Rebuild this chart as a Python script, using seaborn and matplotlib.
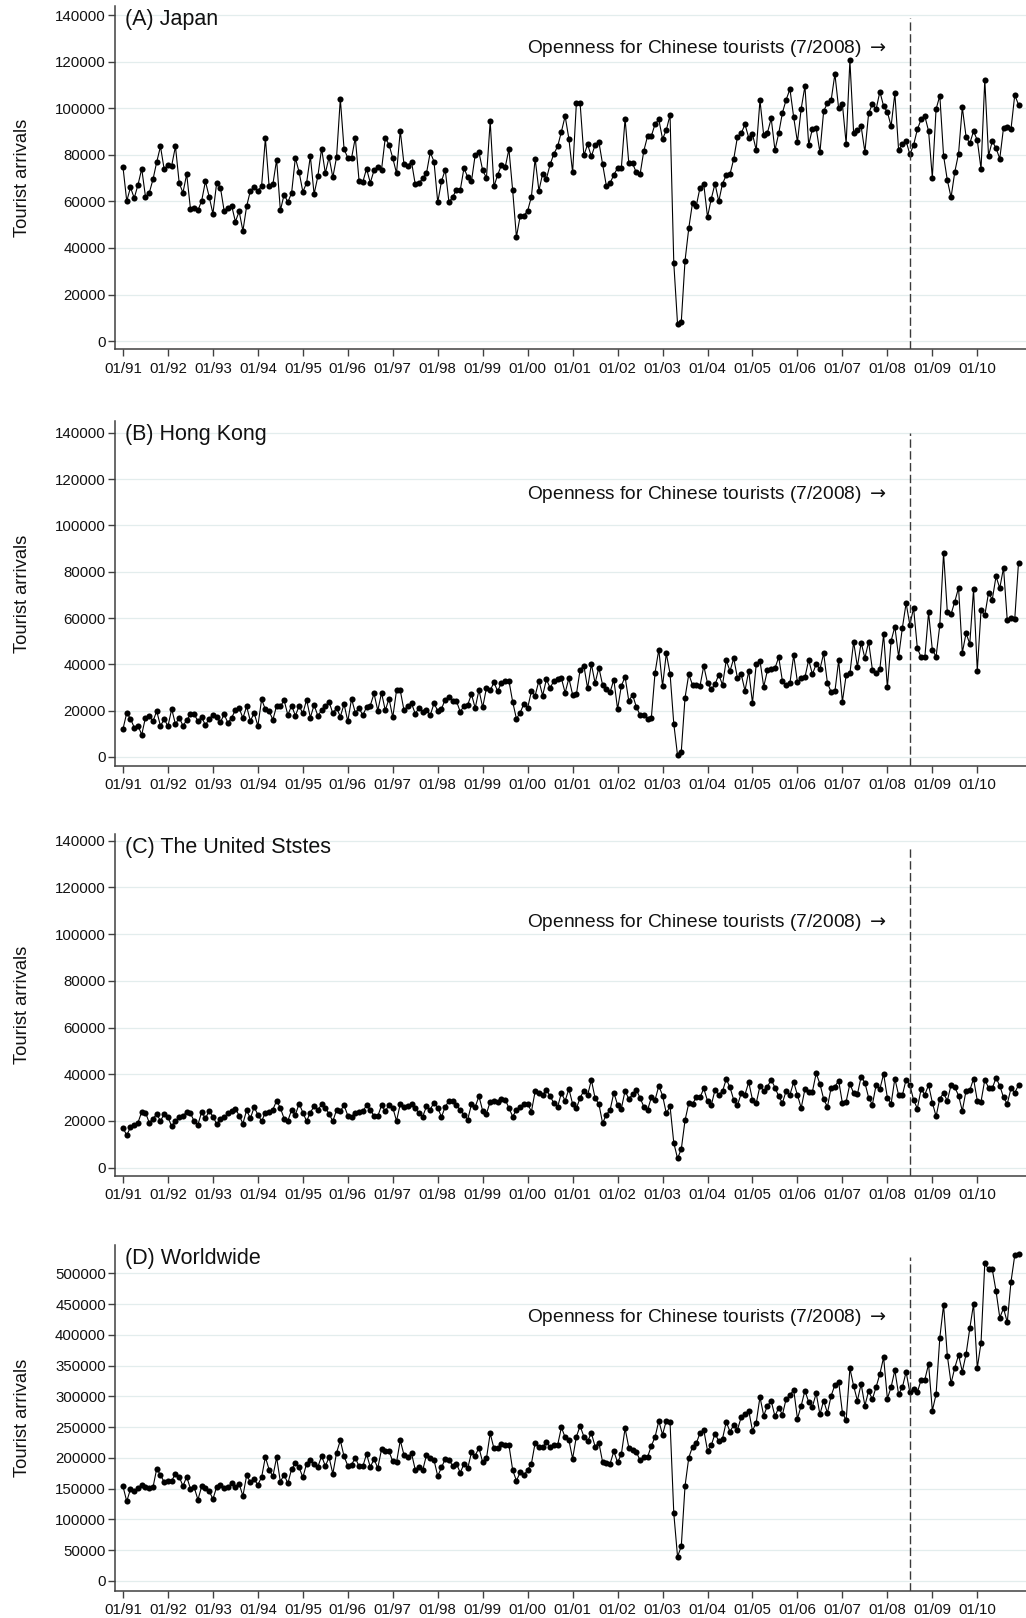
import pandas as pd
import seaborn as sns
import matplotlib.pyplot as plt
import matplotlib.transforms as mtransforms

# monthly tourist arrivals, 01/1991 - 12/2010
years = list(range(1991, 2011))
tick_labels = ["01/%02d" % (y % 100) for y in years]

japan = [
    74700, 60100, 66000, 61400, 67100, 74000, 62000, 63600, 69400, 76900, 83600, 73700,
    75700, 75400, 83600, 67900, 63700, 71700, 56900, 57100, 56100, 60300, 68600, 62000,
    54700, 67900, 65900, 55900, 57300, 58100, 51300, 55700, 47300, 57900, 64600, 66100,
    64400, 66700, 87100, 66400, 67300, 77900, 56100, 62900, 59700, 63600, 78700, 72600,
    64100, 67900, 79400, 63100, 70700, 82700, 72100, 79000, 70300, 79000, 104000, 82400,
    78700, 78600, 87300, 68900, 68300, 74000, 68000, 73300, 74700, 73600, 87300, 84300,
    78600, 72100, 90300, 75900, 75300, 77000, 67300, 67900, 69900, 72100, 81100, 77100,
    59600, 68600, 73600, 59600, 61900, 65000, 64700, 74300, 70400, 68600, 80000, 81100,
    73300, 70100, 94400, 66400, 71400, 75600, 74600, 82400, 64700, 44700, 53700, 53900,
    56000, 62000, 78300, 64600, 71900, 69700, 75900, 80400, 83600, 89900, 96600, 86900,
    72400, 102100, 102100, 79700, 84500, 79300, 84200, 85600, 76000, 66700, 67900, 71400,
    74300, 74300, 95500, 76300, 76300, 72400, 71600, 81700, 88000, 88000, 93200, 95200,
    86800, 90600, 97100, 33500, 7400, 8300, 34500, 48500, 59400, 58100, 65900, 67300,
    53300, 61100, 67600, 60000, 67600, 71200, 71700, 78200, 87800, 89200, 93100, 87300,
    88900, 82000, 103400, 88300, 89500, 95600, 82000, 89200, 98100, 103700, 108200, 96100,
    85500, 99800, 109500, 84300, 91200, 91500, 81000, 98800, 102100, 103500, 114700, 99900,
    101700, 84800, 120500, 89200, 90600, 92200, 81200, 97800, 101800, 99600, 107100, 100900,
    98400, 92300, 106400, 82000, 84600, 85900, 80200, 84200, 90900, 95200, 96600, 90200,
    70200, 99600, 105400, 79600, 69100, 61700, 72700, 80500, 100400, 87800, 84900, 90100,
    86300, 73900, 112200, 79600, 85800, 82900, 78300, 91600, 91900, 91100, 105700, 101500,
]

hong_kong = [
    12100, 19000, 16500, 12700, 13500, 9600, 17000, 17700, 15400, 19800, 13400, 16300,
    13300, 20700, 14100, 17000, 13500, 15800, 18400, 18400, 15500, 17200, 13700, 16500,
    18100, 17200, 15000, 18400, 14700, 17000, 20200, 21100, 16800, 21800, 15500, 19000,
    13400, 24900, 20500, 19700, 16100, 22000, 21800, 24500, 18100, 22200, 17800, 22000,
    18800, 24700, 17000, 22400, 17800, 20100, 22000, 23800, 18800, 21200, 17400, 22800,
    15400, 25100, 19100, 21100, 18000, 21500, 22200, 27400, 20000, 27700, 20100, 25200,
    17100, 28700, 28700, 20100, 22000, 23100, 18700, 21100, 19400, 20400, 18000, 23100,
    20000, 20800, 24800, 25800, 24200, 24100, 19500, 22000, 22500, 27100, 21100, 28900,
    21400, 29800, 28700, 32200, 28400, 32100, 32600, 32900, 23800, 16500, 19100, 23000,
    21200, 28400, 26500, 32900, 26500, 33500, 29800, 32900, 33800, 34000, 27700, 34000,
    26900, 27000, 37700, 39400, 29600, 40100, 31900, 38600, 31100, 29300, 28000, 33400,
    20600, 30700, 34600, 24100, 26900, 21600, 18100, 18100, 16300, 16700, 36400, 46400,
    30600, 44700, 36000, 14300, 700, 2300, 25600, 35700, 31100, 31000, 30700, 39300,
    31900, 29300, 31300, 35600, 31100, 41700, 37100, 42600, 34000, 35700, 28600, 37100,
    23300, 40000, 41600, 30300, 37400, 38100, 38300, 43100, 32700, 30900, 32000, 43900,
    32300, 34000, 34400, 41900, 35700, 40100, 37900, 44700, 32000, 28000, 28300, 41700,
    23900, 35300, 36100, 49700, 38900, 49400, 42700, 49700, 37700, 36300, 38000, 52900,
    30000, 50100, 56300, 43300, 55700, 66400, 57100, 64300, 47000, 43100, 43000, 62400,
    46300, 43300, 57000, 88100, 62600, 61700, 67100, 73100, 45000, 53400, 48900, 72400,
    37300, 63300, 61100, 70900, 68000, 78000, 72900, 81700, 59000, 60000, 59600, 83900,
]

united_states = [
    17000, 13900, 17300, 18400, 19300, 23900, 23600, 19300, 20900, 23000, 20000, 23000,
    21600, 17700, 20000, 21700, 22100, 23900, 23300, 19900, 18400, 23900, 21100, 24300,
    21900, 18700, 20700, 21600, 23300, 24400, 25300, 22300, 18900, 24600, 21100, 25900,
    22700, 19900, 23600, 23900, 24900, 28600, 25600, 21000, 20100, 24700, 22600, 27400,
    23600, 19900, 23600, 26300, 24600, 27100, 25700, 23000, 19900, 24700, 24300, 26700,
    22300, 21700, 23300, 23700, 24100, 26700, 24900, 22100, 22000, 26700, 24300, 26700,
    25700, 20000, 27300, 26100, 26300, 27300, 25600, 23300, 21900, 26300, 24900, 27900,
    25700, 21700, 26100, 28600, 28600, 26900, 24600, 22700, 20600, 27100, 26000, 30600,
    24300, 23100, 28300, 28700, 28100, 29600, 29100, 25600, 21900, 24700, 26100, 27100,
    27400, 24000, 32700, 31900, 31000, 33300, 30600, 27600, 26000, 32000, 28600, 33700,
    27300, 25400, 29900, 33000, 31000, 37600, 29700, 27300, 19100, 22700, 24700, 32100,
    26900, 25300, 32900, 29400, 31400, 33300, 29900, 26100, 24600, 30100, 29000, 35000,
    30900, 23300, 26300, 10600, 4000, 7900, 20300, 27600, 27300, 30100, 30100, 33900,
    28600, 26700, 33300, 31300, 32700, 37900, 34400, 29000, 26700, 31900, 31300, 36600,
    29100, 27600, 35000, 32900, 34700, 37700, 34300, 30600, 27700, 33000, 31300, 36600,
    31100, 25600, 33600, 32400, 32600, 40400, 35900, 29400, 26000, 34300, 34700, 37300,
    27600, 28300, 35900, 31900, 31400, 39000, 36400, 30000, 27000, 35400, 33700, 40100,
    30000, 27400, 38100, 31100, 31000, 37700, 35400, 29000, 25300, 33600, 31300, 35400,
    27900, 22000, 29600, 31900, 28600, 35400, 34400, 30900, 24300, 33000, 33100, 38100,
    28700, 28300, 37600, 34300, 34000, 38400, 35100, 30100, 27300, 34000, 32100, 35300,
]

worldwide = [
    153700, 129400, 149400, 146200, 151600, 155900, 152100, 151000, 152100, 182400, 172200, 160800,
    162900, 162900, 174300, 169400, 154300, 169400, 150000, 152100, 132100, 153700, 150500, 146200,
    133200, 152700, 155900, 151000, 152700, 158600, 152100, 158100, 138000, 171600, 160800, 165100,
    156400, 168900, 201400, 180800, 170000, 200900, 161300, 172700, 158600, 181900, 191100, 184600,
    168400, 190600, 197100, 189500, 185200, 203000, 186800, 200900, 174300, 208400, 228500, 202500,
    187300, 188900, 200300, 186200, 186200, 206300, 185200, 198100, 183500, 213900, 210600, 210600,
    194400, 192700, 228500, 204700, 200900, 207400, 180800, 185200, 180300, 204700, 199800, 196500,
    170500, 184600, 198100, 197100, 186800, 190600, 176000, 190000, 183000, 209000, 203600, 216600,
    192700, 199200, 239900, 215500, 215500, 222500, 220900, 220900, 180300, 162900, 176500, 171600,
    180800, 190600, 224700, 217700, 217100, 225800, 217700, 220400, 221000, 249700, 233500, 229100,
    198800, 234600, 251900, 234600, 227000, 240500, 218300, 224800, 193400, 192300, 190700, 210700,
    192900, 205900, 248100, 216700, 213400, 209600, 196100, 201500, 201500, 219400, 234000, 260000,
    237800, 260600, 258400, 110000, 39500, 56300, 154400, 200400, 218300, 223700, 240500, 245400,
    211800, 220500, 239400, 227500, 231300, 258400, 242700, 253500, 245900, 266500, 271400, 276800,
    244300, 257300, 299000, 268700, 284900, 292500, 267600, 281700, 270300, 296300, 301700, 310900,
    263800, 284900, 309300, 290900, 283300, 305000, 270900, 293100, 273100, 301200, 318500, 323900,
    273600, 261100, 345600, 316900, 293100, 320200, 284900, 308800, 295300, 315300, 336400, 363500,
    296300, 315300, 342400, 303400, 314700, 339700, 306600, 312000, 306600, 326700, 327200, 352700,
    276800, 303400, 395500, 448600, 366300, 321300, 346700, 367300, 340200, 368400, 410600, 450200,
    346200, 387400, 516300, 506500, 506500, 471300, 428000, 443200, 420400, 486500, 529300, 530900,
]

titles = ["(A) Japan", "(B) Hong Kong", "(C) The United Ststes", "(D) Worldwide"]
series = [japan, hong_kong, united_states, worldwide]
open_month = 210  # 7/2008
note = r"Openness for Chinese tourists (7/2008) $\rightarrow$"

# per panel: axes rect, y limits, y tick step, top tick, y position of the note (axes fraction)
layout = [
    ([0.1121, 0.7843, 0.8879, 0.2120], (-3400, 143900), 20000, 140000, 0.877),
    ([0.1121, 0.5266, 0.8879, 0.2132], (-3900, 145100), 20000, 140000, 0.788),
    ([0.1121, 0.2732, 0.8879, 0.2114], (-3550, 142900), 20000, 140000, 0.740),
    ([0.1121, 0.0167, 0.8879, 0.2138], (-16250, 545950), 50000, 500000, 0.792),
]

sns.set_style("ticks")
plt.rcParams["font.family"] = ["Liberation Sans", "DejaVu Sans"]
plt.rcParams["mathtext.fontset"] = "dejavusans"

fig = plt.figure(figsize=(10.26, 16.18), dpi=100)

for title, vals, (rect, ylim, step, ymax, note_y) in zip(titles, series, layout):
    ax = fig.add_axes(rect)
    df = pd.DataFrame({"month": range(len(vals)), "arrivals": vals})
    sns.lineplot(data=df, x="month", y="arrivals", ax=ax, color="black",
                 linewidth=0.8, marker="o", markersize=4.4, markeredgewidth=0,
                 markerfacecolor="black", errorbar=None)

    ax.set_xlim(-2.13, 241)
    ax.set_ylim(*ylim)
    yt = list(range(0, ymax + 1, step))
    ax.set_yticks(yt)
    ax.set_yticklabels([str(v) for v in yt])
    ax.set_xticks(range(0, 240, 12))
    ax.set_xticklabels(tick_labels)
    ax.tick_params(axis="both", direction="out", length=5, width=1,
                   color="#404040", labelsize=10.8, labelcolor="#111111")
    ax.tick_params(axis="y", pad=1.5)
    ax.tick_params(axis="x", pad=4)

    ax.yaxis.grid(True, color="#e3eded", linewidth=0.9)
    ax.xaxis.grid(False)
    ax.set_axisbelow(True)
    sns.despine(ax=ax)
    for side in ["left", "bottom"]:
        ax.spines[side].set_color("#404040")
        ax.spines[side].set_linewidth(1.1)

    ax.set_xlabel("")
    ax.set_ylabel("Tourist arrivals", fontsize=13.2, color="#111111")
    ax.yaxis.set_label_coords(-0.092, 0.5)

    ax.axvline(open_month, ymax=0.965, color="#3a3a3a", linewidth=1.0,
               linestyle=(0, (6, 2.5)))

    ax.text(0.011, 0.96, title, transform=ax.transAxes, ha="left",
            va="center", fontsize=15.5, color="#111111")
    trans = mtransforms.blended_transform_factory(ax.transData, ax.transAxes)
    ax.text(open_month - 6, note_y, note, transform=trans, ha="right",
            va="center", fontsize=13.8, color="#111111")

fig.savefig("out.png", dpi=100)
